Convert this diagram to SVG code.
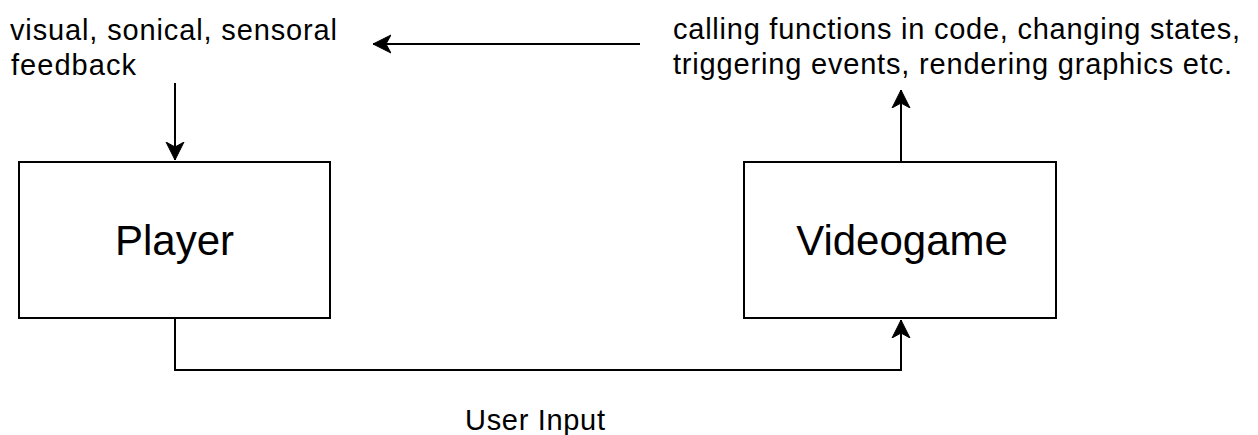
<svg xmlns="http://www.w3.org/2000/svg" width="1258" height="435" viewBox="0 0 1258 435">
<style>
.box{fill:#fff;stroke:#000;stroke-width:2}
.edge{fill:none;stroke:#000;stroke-width:2}
.big{font-family:"Liberation Sans",Arial,sans-serif;font-size:42px;fill:#000;text-anchor:middle}
.small{font-family:"Liberation Sans",Arial,sans-serif;font-size:29px;fill:#000}
</style>
<defs>
<marker id="arr" markerUnits="userSpaceOnUse" markerWidth="20" markerHeight="20" viewBox="-18 -9 20 18" refX="0" refY="0" orient="auto">
<path d="M0,0 L-18,-9 L-13,0 L-18,9 Z" fill="#000" stroke="#000" stroke-width="1" stroke-linejoin="miter"/>
</marker>
</defs>
<rect width="1258" height="435" fill="#fff"/>
<g id="connectors">
<path class="edge" d="M640,44 L373,44" marker-end="url(#arr)"/>
<path class="edge" d="M175,83 L175,160" marker-end="url(#arr)"/>
<path class="edge" d="M901,162 L901,90" marker-end="url(#arr)"/>
<path class="edge" d="M175,318 L175,370 L901,370 L901,320" marker-end="url(#arr)"/>
</g>
<g id="player">
<rect class="box" x="19" y="162" width="311" height="156"/>
<text class="big" x="174.5" y="255">Player</text>
</g>
<g id="videogame">
<rect class="box" x="744" y="162" width="312" height="156"/>
<text class="big" x="902" y="255">Videogame</text>
</g>
<g id="feedback-label">
<text class="small" x="10" y="40" textLength="327" lengthAdjust="spacing">visual, sonical, sensoral</text>
<text class="small" x="11" y="75" textLength="125" lengthAdjust="spacing">feedback</text>
</g>
<g id="effects-label">
<text class="small" x="673" y="39" textLength="567" lengthAdjust="spacing">calling functions in code, changing states,</text>
<text class="small" x="673" y="74" textLength="559" lengthAdjust="spacing">triggering events, rendering graphics etc.</text>
</g>
<g id="input-label">
<text class="small" x="465" y="430" textLength="140" lengthAdjust="spacing">User Input</text>
</g>
</svg>
